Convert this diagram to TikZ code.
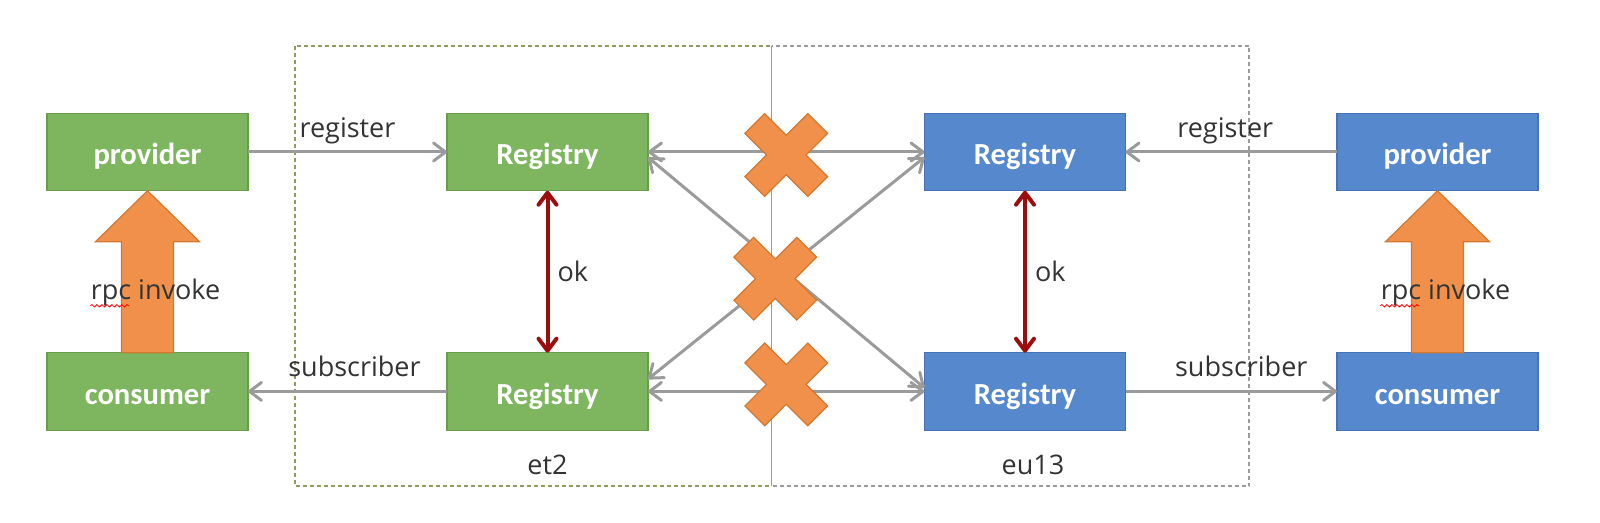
\documentclass[tikz,border=0pt]{standalone}
\usepackage{fontspec}
\setmainfont{Open Sans}
\newfontfamily\cajafuente{Carlito}
\usetikzlibrary{arrows.meta, positioning, calc, decorations.pathmorphing}
\definecolor{cverde}{HTML}{7DB65F}
\definecolor{cverdeb}{HTML}{6A9C4E}
\definecolor{cazul}{HTML}{5588CC}
\definecolor{cazulb}{HTML}{4573B4}
\definecolor{cnaranja}{HTML}{F0904A}
\definecolor{cnaranjab}{HTML}{D27830}
\definecolor{cgris}{HTML}{9B9B9B}
\definecolor{crojo}{HTML}{9C0E0E}
\definecolor{ctexto}{HTML}{333333}
\definecolor{coliva}{HTML}{8E9B62}
\tikzset{
  caja/.style={rectangle, draw=#1b, fill=#1, line width=0.6pt, minimum width=100.5pt,
               minimum height=38.7pt, inner sep=0pt, outer sep=0pt, text=white,
               text height=13pt, text depth=0pt,
               font=\cajafuente\bfseries\fontsize{15.3}{18}\selectfont},
  flecha/.style={-{Straight Barb[round, length=6pt, width=9pt]}, line width=1.5pt, draw=cgris},
  flechados/.style={flecha, {Straight Barb[round, length=6pt, width=9pt]}-{Straight Barb[round, length=6pt, width=9pt]}},
  flechaok/.style={{Straight Barb[round, length=6pt, width=9pt]}-{Straight Barb[round, length=6pt, width=9pt]},
                   line width=2pt, draw=crojo},
  flechagrande/.style={fill=cnaranja, draw=cnaranjab, line width=0.6pt},
  etiqueta/.style={font=\fontsize{13.5}{16}\selectfont, text=ctexto, inner sep=2pt, text depth=0pt},
  marco/.style={dash pattern=on 2pt off 1.5pt, line width=0.6pt, draw=#1},
  ondulado/.style={decorate, decoration={snake, amplitude=0.6pt, segment length=2.5pt}, draw=red, line width=0.4pt},
  cruz/.pic={
    \draw[fill=cnaranja, draw=cnaranjab, line width=0.6pt, rotate=45]
      (14,14) -- (44.5,14) -- (44.5,-14) -- (14,-14) -- (14,-44.5) -- (-14,-44.5) -- (-14,-14)
      -- (-44.5,-14) -- (-44.5,14) -- (-14,14) -- (-14,44.5) -- (14,44.5) -- cycle;
  },
}

\begin{document}
\begin{tikzpicture}[x=0.5pt, y=-0.5pt]
        \useasboundingbox (0,0) rectangle (1600,523);
        \draw[marco=coliva] (295,46) rectangle (771.5,486);
        \draw[marco=cgris] (771.5,46) rectangle (1249,486);
        \draw[cgris, line width=0.9pt] (771.5,46) -- (771.5,486);

        \node[caja=cverde] (provA) at (147.5,152) {provider};
        \node[caja=cverde, below=81pt of provA] (conA) {consumer};
        \node[caja=cverde, right=99.5pt of provA] (regA1) {Registry};
        \node[caja=cverde, below=81pt of regA1] (regA2) {Registry};
        \node[caja=cazul, right=138.25pt of regA1] (regB1) {Registry};
        \node[caja=cazul, below=81pt of regB1] (regB2) {Registry};
        \node[caja=cazul, right=105.75pt of regB1] (provB) {provider};
        \node[caja=cazul, below=81pt of provB] (conB) {consumer};
        \node[etiqueta, below=10pt of regA2] (et2) {et2};
        \node[etiqueta, below=10pt of regB2, xshift=4pt] (eu13) {eu13};

        \draw[flecha] (provA) -- node[etiqueta, above=4.5pt] (regtA) {register} (regA1);
        \draw[flecha] (regA2) -- node[etiqueta, above=4.5pt, xshift=3.5pt] (subA) {subscriber} (conA);
        \draw[flecha] (provB) -- node[etiqueta, above=4.5pt, xshift=-3pt] (regtB) {register} (regB1);
        \draw[flecha] (regB2) -- node[etiqueta, above=4.5pt, xshift=5pt] (subB) {subscriber} (conB);
        \draw[flechaok] (regA1) -- node[etiqueta, right=2pt] (okA) {ok} (regA2);
        \draw[flechaok] (regB1) -- node[etiqueta, right=2pt] (okB) {ok} (regB2);
        \draw[flechados] (regA1) -- (regB1);
        \draw[flechados] (regA2) -- (regB2);
        \draw[flechados] (regA1.357) -- (regB2.178);
        \draw[flechados] (regA2.7) -- (regB1.183);

        \foreach \con/\prov in {conA/provA, conB/provB}{
          \draw[flechagrande] ($(\con.north)+(-26,0)$) -- ($(\prov.south)+(-26,51)$) -- ($(\prov.south)+(-52,51)$)
            -- (\prov.south) -- ($(\prov.south)+(52,51)$) -- ($(\prov.south)+(26,51)$) -- ($(\con.north)+(26,0)$) -- cycle;
        }
        \path (conA.north) -- node[etiqueta, pos=.39, xshift=4pt] (rpcA) {rpc invoke} (provA.south);
        \path (conB.north) -- node[etiqueta, pos=.39, xshift=4pt] (rpcB) {rpc invoke} (provB.south);
        \draw[ondulado] ([xshift=2pt, yshift=-3pt]rpcA.base west) -- ++(39,0);
        \draw[ondulado] ([xshift=2pt, yshift=-3pt]rpcB.base west) -- ++(39,0);

        \pic at ($(regA1.east)!.5!(regB1.west)+(0,3)$) {cruz};
        \pic at ($(regA1.east)!.5!(regB2.west)+(-11,7)$) {cruz};
        \pic at ($(regA2.east)!.5!(regB2.west)+(0,-7)$) {cruz};
    \end{tikzpicture}
\end{document}
